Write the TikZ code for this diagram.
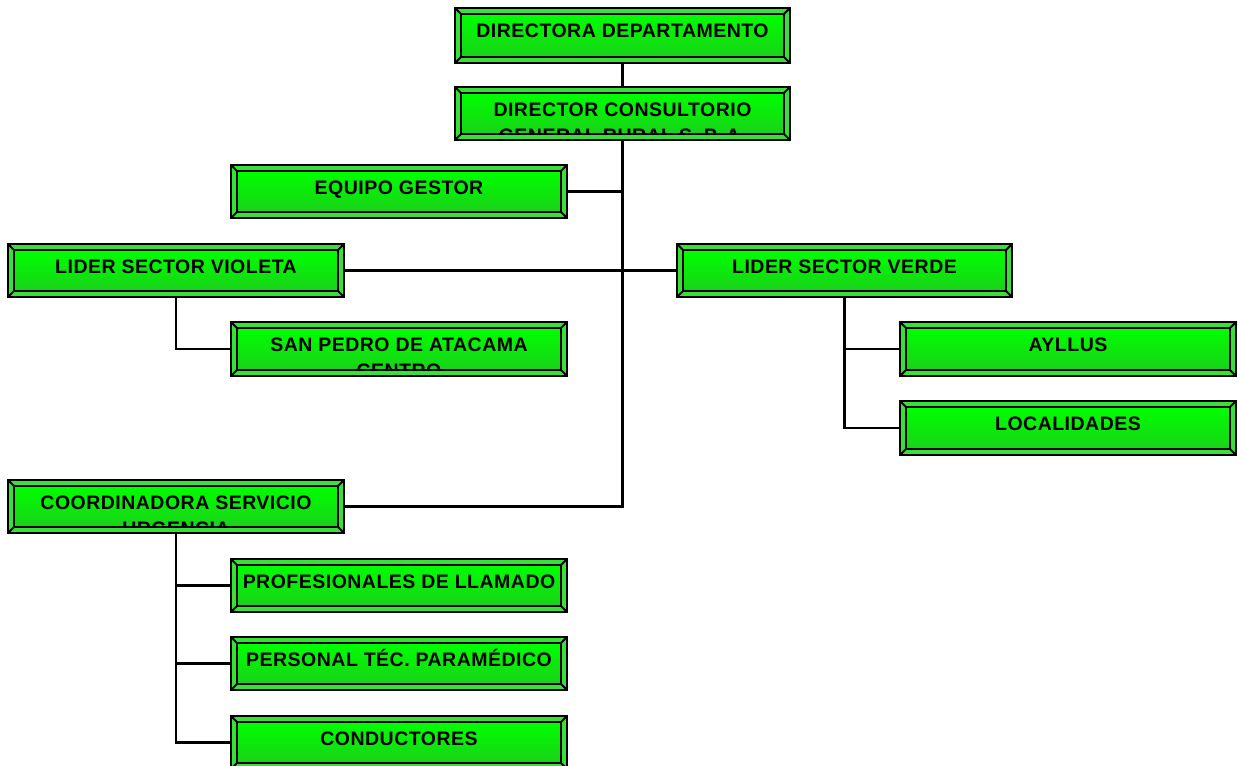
\documentclass[tikz,border=0pt]{standalone}
\usepackage{fontspec}
\setmainfont{Liberation Sans}
\usetikzlibrary{calc}
\definecolor{facetop}{RGB}{0,255,0}
\definecolor{facebot}{RGB}{25,210,25}
\definecolor{bevelc}{RGB}{55,225,55}
\tikzset{
  framestyle/.style={draw=black, line width=2pt},
  connector/.style={draw=black, line width=2.2pt},
  boxtext/.style={inner sep=0pt, align=center, text=black,
    font=\fontsize{19.5}{26}\selectfont\bfseries\addfontfeature{LetterSpace=2.5}},
  boxarea/.style={inner sep=0pt, draw=none, fill=none}
}
% #1 name, #2 x1, #3 y1, #4 x2, #5 y2, #6 text
\newcommand{\orgbox}[6]{%
  \node[boxarea, minimum width={(#4-#2)*1pt}, minimum height={(#5-#3)*1pt}]
    (#1) at ({(#2+#4)/2},{(#3+#5)/2}) {};
  \fill[bevelc] (#2,#3) rectangle (#4,#5);
  \shade[top color=facetop, bottom color=facebot] (#2+6,#3+6) rectangle (#4-6,#5-6);
  \begin{scope}
    \clip (#2+6,#3+6) rectangle (#4-6,#5-6);
    \node[boxtext, anchor=north] (#1-text) at ({(#2+#4)/2},{#3+11}) {\rule{0pt}{18pt}#6};
  \end{scope}
  \draw[framestyle] (#2,#3) rectangle (#4,#5);
  \draw[framestyle] (#2+6,#3+6) rectangle (#4-6,#5-6);
  \draw[framestyle] (#2,#3) -- (#2+6,#3+6) (#4,#3) -- (#4-6,#3+6)
                    (#2,#5) -- (#2+6,#5-6) (#4,#5) -- (#4-6,#5-6);
}
\begin{document}
\begin{tikzpicture}[x=1pt,y=-1pt]
\fill[white] (0,0) rectangle (1238,765);
\useasboundingbox (0,0) rectangle (1238,765);
\orgbox{dd}{455}{8}{790}{63}{DIRECTORA DEPARTAMENTO}
\orgbox{dc}{455}{87}{790}{140}{DIRECTOR CONSULTORIO\\GENERAL RURAL S. P. A.}
\orgbox{eg}{231}{165}{567}{218}{EQUIPO GESTOR}
\orgbox{lv}{8}{244}{344}{297}{LIDER SECTOR VIOLETA}
\orgbox{lvd}{677}{244}{1012}{297}{LIDER SECTOR VERDE}
\orgbox{sp}{231}{322}{567}{376}{SAN PEDRO DE ATACAMA\\CENTRO}
\orgbox{ay}{900}{322}{1236}{376}{AYLLUS}
\orgbox{loc}{900}{401}{1236}{455}{LOCALIDADES}
\orgbox{cs}{8}{480}{344}{533}{COORDINADORA SERVICIO\\URGENCIA}
\orgbox{pl}{231}{559}{567}{612}{PROFESIONALES DE LLAMADO}
\orgbox{pt}{231}{637}{567}{690}{PERSONAL TÉC. PARAMÉDICO}
\orgbox{cd}{231}{716}{567}{769}{CONDUCTORES}
% connectors
\draw[connector] (dd.south) -- (dc.north);
\draw[connector] (dc.south) |- (cs.east);
\draw[connector] (eg.east) -- (eg.east -| dc.south);
\draw[connector] (lv.east) -- (lvd.west);
\draw[connector] (lv.south) |- (sp.west);
\draw[connector] (lvd.south) |- (ay.west);
\draw[connector] (lvd.south) |- (loc.west);
\draw[connector] (cs.south) |- (pl.west);
\draw[connector] (cs.south) |- (pt.west);
\draw[connector] (cs.south) |- (cd.west);
\end{tikzpicture}
\end{document}
